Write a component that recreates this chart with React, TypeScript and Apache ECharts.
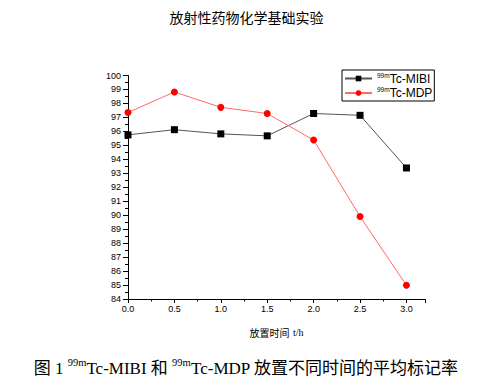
import React, { useEffect, useRef } from "react";
import * as echarts from "echarts";

const times = [0, 0.5, 1.0, 1.5, 2.0, 2.5, 3.0];
const mibi = [95.75, 96.12, 95.82, 95.68, 97.28, 97.15, 93.38];
const mdp = [97.35, 98.82, 97.72, 97.28, 95.38, 89.9, 84.98];
const seriesNames = ["99mTc-MIBI", "99mTc-MDP"];
const titleText = "放射性药物化学基础实验";
const xName = "放置时间";
const xUnit = "t/h";

const sans = "'Liberation Sans', Arial, 'Noto Sans CJK SC', sans-serif";
const serif = "'Liberation Serif', 'DejaVu Serif', 'Noto Sans CJK SC', serif";
const cjk = "'Noto Sans CJK SC', sans-serif";

export default function App() {
  const ref = useRef<HTMLDivElement>(null);
  useEffect(() => {
    if (!ref.current) return;
    const chart = echarts.init(ref.current, undefined, { renderer: "svg" });
    const pairs = (vals: number[]) => times.map((t, i) => [t, vals[i]]);
    chart.setOption({
      animation: false,
      backgroundColor: "#fff",
      title: {
        text: titleText,
        left: "center",
        top: 5,
        textStyle: { fontSize: 14, fontWeight: "normal", color: "#000", fontFamily: cjk },
      },
      legend: {
        orient: "vertical",
        left: 342,
        top: 70,
        padding: [2, 2, 2, 2],
        itemGap: 2,
        itemWidth: 27,
        itemHeight: 7,
        borderColor: "#000",
        borderWidth: 1,
        backgroundColor: "#fff",
        data: seriesNames,
        formatter: (n: string) => "{s|99m}{t|" + n.replace("99m", "") + "}",
        textStyle: {
          color: "#000",
          rich: {
            s: { fontSize: 6.5, fontFamily: sans, verticalAlign: "top", lineHeight: 13, color: "#000" },
            t: { fontSize: 12, fontFamily: sans, lineHeight: 13, color: "#000" },
          },
        },
      },
      grid: { left: 128, right: 68, top: 75.5, bottom: 85, containLabel: false, outerBoundsMode: "none" },
      xAxis: {
        type: "value",
        min: 0,
        max: 3.2,
        interval: 0.5,
        name: "{a|" + xName + "} {b|" + xUnit + "}",
        nameLocation: "middle",
        nameGap: 27,
        nameTextStyle: {
          rich: {
            a: { fontSize: 10, fontFamily: cjk, color: "#000" },
            b: { fontSize: 10, fontFamily: serif, color: "#000" },
          },
        },
        axisLine: { show: true, lineStyle: { color: "#000", width: 1 } },
        axisTick: { show: true, length: 4, lineStyle: { color: "#000" } },
        minorTick: { show: true, splitNumber: 2, length: 2.5, lineStyle: { color: "#000" } },
        axisLabel: {
          margin: 5,
          fontSize: 9,
          fontFamily: sans,
          color: "#000",
          showMaxLabel: false,
          formatter: (v: number) => (Math.abs(v * 2 - Math.round(v * 2)) < 1e-6 ? v.toFixed(1) : ""),
        },
        splitLine: { show: false },
      },
      yAxis: {
        type: "value",
        min: 84,
        max: 100,
        interval: 1,
        axisLine: { show: true, lineStyle: { color: "#000", width: 1 } },
        axisTick: { show: true, length: 5, lineStyle: { color: "#000" } },
        minorTick: { show: true, splitNumber: 2, length: 3, lineStyle: { color: "#000" } },
        axisLabel: { margin: 7, fontSize: 9, fontFamily: sans, color: "#000" },
        splitLine: { show: false },
      },
      series: [
        {
          name: seriesNames[0],
          type: "line",
          data: pairs(mibi),
          symbol: "rect",
          symbolSize: 7,
          lineStyle: { color: "#555", width: 1 },
          itemStyle: { color: "#000" },
        },
        {
          name: seriesNames[1],
          type: "line",
          data: pairs(mdp),
          symbol: "circle",
          symbolSize: 7,
          lineStyle: { color: "#ff6a6a", width: 1 },
          itemStyle: { color: "#ff0000" },
        },
      ],
      graphic: [
        {
          type: "text",
          x: 246,
          y: 368,
          style: {
            text: "{a|图 1 }{s|99m}{a|Tc-MIBI 和 }{s|99m}{a|Tc-MDP 放置不同时间的平均标记率}",
            align: "center",
            verticalAlign: "middle",
            rich: {
              a: { fontSize: 17, fontFamily: serif, fill: "#000", lineHeight: 21 },
              s: { fontSize: 10.5, fontFamily: serif, fill: "#000", verticalAlign: "top", lineHeight: 21 },
            },
          },
        },
      ],
    });
    return () => chart.dispose();
  }, []);
  return <div ref={ref} style={{ position: "fixed", left: 0, top: 0, width: 493, height: 384 }} />;
}
